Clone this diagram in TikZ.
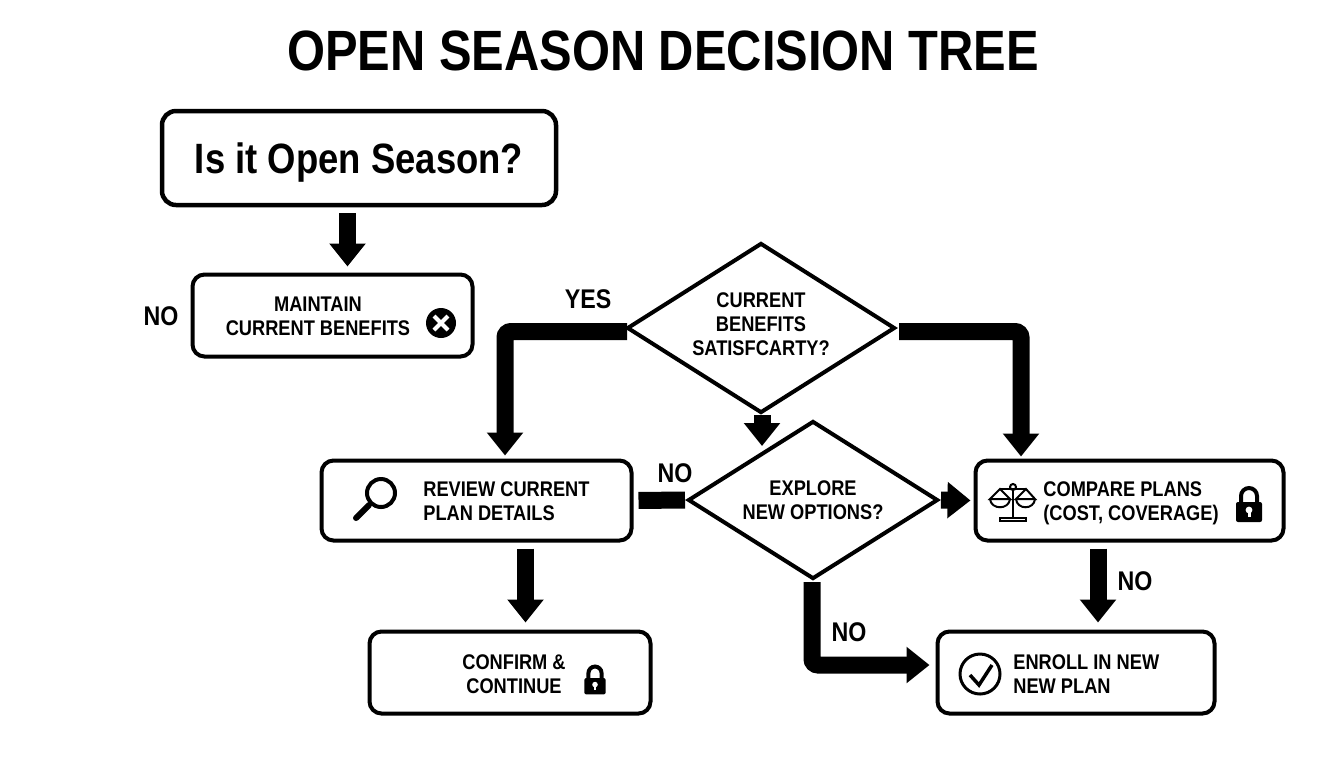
\documentclass[tikz,border=0pt]{standalone}
\usepackage{fontspec}
\setmainfont{Liberation Sans}[FakeStretch=0.86]
\usetikzlibrary{arrows.meta,shapes.geometric}
\tikzset{
  box/.style={draw, line width=2pt, rounded corners=6pt, inner sep=0pt},
  choice/.style={draw, diamond, aspect=1.58, line width=2pt, inner sep=0pt, align=center, font=\fontsize{10.6}{12}\selectfont\bfseries},
  txt/.style={inner sep=0pt, align=center, font=\fontsize{10.6}{12}\selectfont\bfseries},
  lefttxt/.style={txt, align=left, anchor=west},
  answer/.style={inner sep=0pt, font=\fontsize{13.5}{15}\selectfont\bfseries},
  bigarrow/.style={line width=8.5pt, -{Triangle[length=11.5pt,width=17.5pt]}},
  lockicon/.pic={
    \draw [line width=2pt] (-8,1) -- (-8,-6) arc [start angle=180, end angle=360, radius=8] -- (8,1);
    \fill [rounded corners=1pt] (-13,0) rectangle (13,20);
    \fill [white] (0,8) circle [radius=1.7pt];
    \fill [white] (-1.5,8) rectangle (1.5,15);
  }
}
\begin{document}
\begin{tikzpicture}[x=0.5pt, y=-0.5pt]
  \useasboundingbox (0,0) rectangle (1344,768);
  \node (title) [inner sep=0pt, font=\fontsize{28.4}{30}\selectfont\bfseries] at (663,51) {OPEN SEASON DECISION TREE};
  \node (ask) [box, line width=2.25pt, rounded corners=7pt, text depth=0pt, minimum width=197pt, minimum height=47pt, font=\fontsize{21.2}{24}\selectfont\bfseries] at (359,158) {Is it Open Season?};
  \node (maintain) [box, minimum width=140pt, minimum height=41pt] at (332.5,315.5) {};
  \node (maintaintxt) [txt] at (318,316) {MAINTAIN\\CURRENT BENEFITS};
  \node (review) [box, minimum width=155pt, minimum height=40pt] at (476.5,500.5) {};
  \node (reviewtxt) [lefttxt] at (423,501) {REVIEW CURRENT\\PLAN DETAILS};
  \node (confirm) [box, minimum width=140.5pt, minimum height=41pt] at (510,672.5) {};
  \node (confirmtxt) [txt] at (514,674) {CONFIRM \&\\CONTINUE};
  \node (compare) [box, minimum width=154pt, minimum height=40pt] at (1129.5,500.5) {};
  \node (comparetxt) [lefttxt] at (1043,503) {COMPARE PLANS\\(COST, COVERAGE)};
  \node (enroll) [box, minimum width=138.5pt, minimum height=41pt] at (1076,672.5) {};
  \node (enrolltxt) [lefttxt] at (1013,674) {ENROLL IN NEW\\NEW PLAN};
  \node (satisfy) [choice, minimum width=134pt, minimum height=85pt] at (761,328) {};
  \node (satisfytxt) [txt] at (761,324.5) {CURRENT\\BENEFITS\\SATISFCARTY?};
  \node (explore) [choice, minimum width=125pt, minimum height=79pt] at (813,500) {EXPLORE\\NEW OPTIONS?};
  \draw [bigarrow, shorten >=3pt, shorten <=3pt] ([xshift=-5.75pt]ask.south) -- ([xshift=7.5pt]maintain.north);
  \draw [bigarrow, rounded corners=3pt, shorten <=-1pt, shorten >=1.5pt] ([yshift=-1.75pt]satisfy.west) -| ([xshift=14.25pt]review.north);
  \draw [bigarrow, rounded corners=3pt, shorten <=1pt, shorten >=1pt] ([yshift=-1.75pt]satisfy.east) -| ([xshift=-54.25pt]compare.north);
  \draw [bigarrow] ([xshift=0.5pt]satisfy.south) -- ([xshift=-25.5pt,yshift=-13.5pt]explore.north);
  \draw [line width=8.5pt, shorten <=2.5pt, shorten >=0.5pt] (review.east) -- (explore.west);
  \draw [bigarrow, shorten <=0.5pt, shorten >=1.5pt] (explore.east) -- (compare.west);
  \draw [bigarrow, shorten <=3pt, shorten >=3.5pt] ([xshift=24.5pt]review.south) -- ([xshift=7.75pt]confirm.north);
  \draw [bigarrow, shorten <=3pt, shorten >=3.5pt] ([xshift=-15.75pt]compare.south) -- ([xshift=11pt]enroll.north);
  \draw [bigarrow, rounded corners=3pt, shorten <=0.5pt, shorten >=3pt] ([xshift=-0.5pt]explore.south) |- ([yshift=3.75pt]enroll.west);
  \node (no1) [answer] at (161,316) {NO};
  \node (yes) [answer] at (588,299) {YES};
  \node (no2) [answer] at (675,473) {NO};
  \node (no3) [answer] at (849,632) {NO};
  \node (no4) [answer] at (1135,581) {NO};
  % icons
  \fill (441,323) circle [radius=7.5pt];
  \draw [white, line width=2pt] (434,316) -- (448,330) (448,316) -- (434,330);
  \draw [line width=2pt] (381,493) circle [radius=7pt];
  \draw [line width=3pt, line cap=round] (369,505) -- (356,518);
  \pic at (595,678) [scale=0.82] {lockicon};
  \pic at (1249,502) {lockicon};
  \draw [line width=1.5pt] (980,674) circle [radius=10pt];
  \draw [line width=1.75pt] (970,675) -- (979,685) -- (992,665);
  \begin{scope}[line width=1pt]
    \draw (1013,487) circle [radius=1.5pt];
    \draw (1013,490) -- (1013,517);
    \draw (1000,518) -- (1026,518) -- (1026,521) -- (1000,521) -- cycle;
    \draw (1000,489) -- (1026,489);
    \draw (990,499) -- (1000,489) -- (1010,499) -- cycle;
    \draw (1016,499) -- (1026,489) -- (1035,499) -- cycle;
    \draw (990,499) .. controls (991,510) and (1009,510) .. (1010,499);
    \draw (1016,499) .. controls (1017,510) and (1034,510) .. (1035,499);
  \end{scope}
\end{tikzpicture}
\end{document}
